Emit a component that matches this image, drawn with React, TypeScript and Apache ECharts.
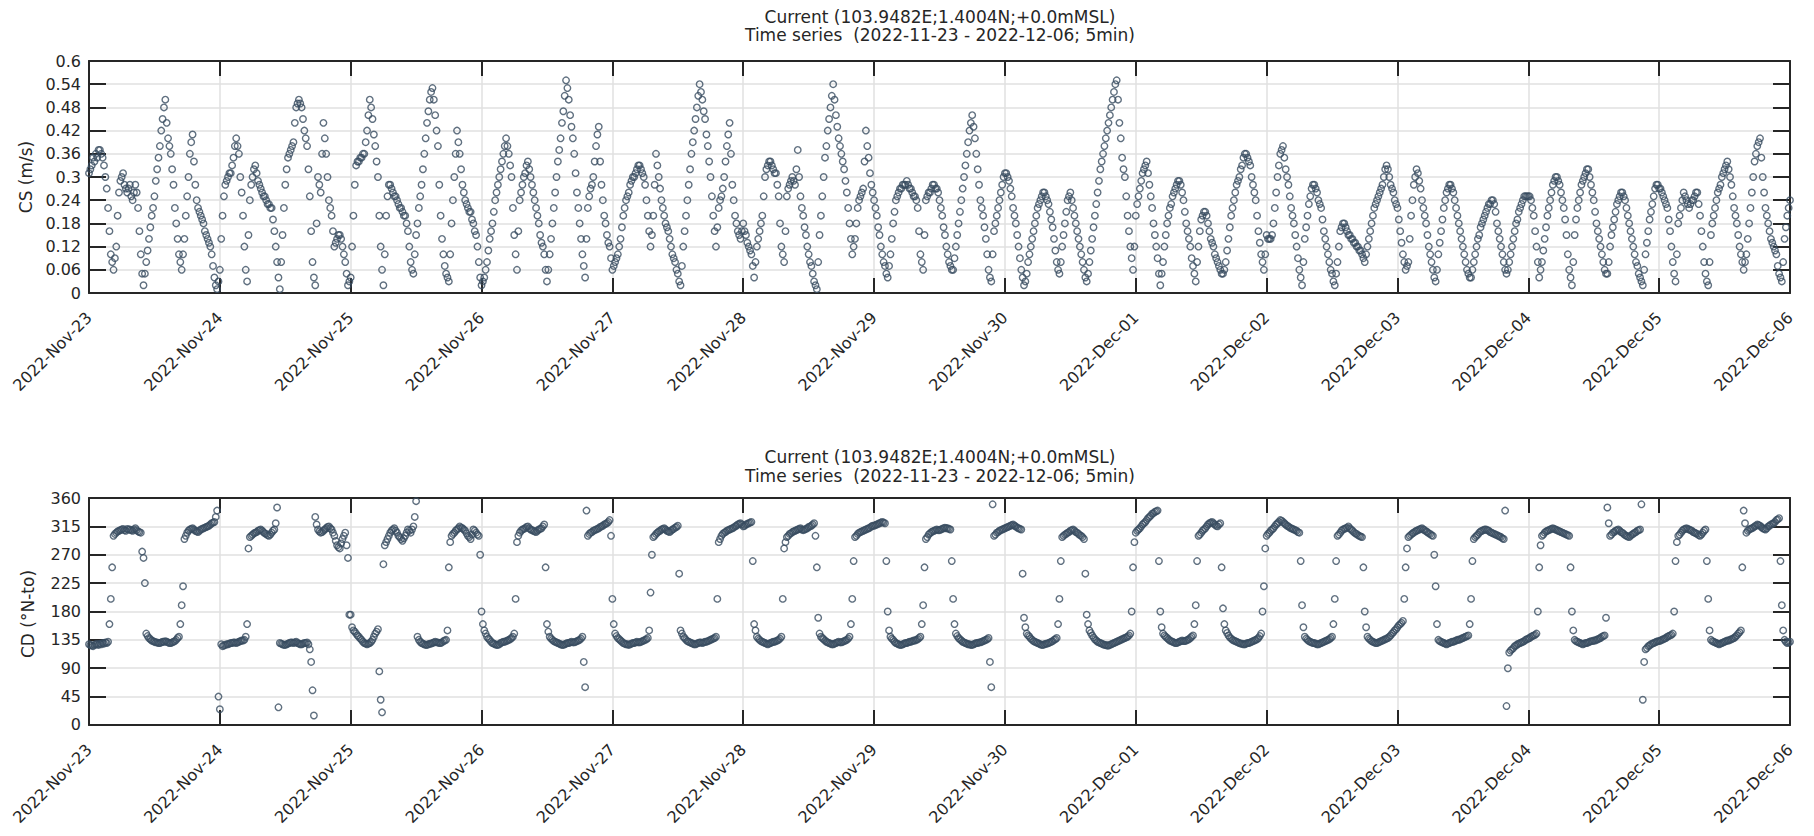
import React, { useEffect, useRef } from "react";
import * as echarts from "echarts";

// ---------- tick labels / texts ----------
const dateLabels = [
  "2022-Nov-23", "2022-Nov-24", "2022-Nov-25", "2022-Nov-26", "2022-Nov-27",
  "2022-Nov-28", "2022-Nov-29", "2022-Nov-30", "2022-Dec-01", "2022-Dec-02",
  "2022-Dec-03", "2022-Dec-04", "2022-Dec-05", "2022-Dec-06",
];
const titleLine1 = "Current (103.9482E;1.4004N;+0.0mMSL)";
const titleLine2 = "Time series  (2022-11-23 - 2022-12-06; 5min)";

// ---------- current speed (m/s), 15-minute readings per day ----------
const cs_nov23 = [0.31,0.32,0.33,0.35,0.34,0.36,0.35,0.37,0.37,0.36,0.35,0.33,0.30,0.27,0.22,0.16,0.10,0.08,0.06,0.09,0.12,0.20,0.26,0.29,0.30,0.31,0.28,0.27,0.26,0.27,0.28,0.25,0.24,0.26,0.28,0.26,0.22,0.16,0.10,0.05,0.02,0.05,0.08,0.11,0.14,0.17,0.20,0.22,0.25,0.29,0.32,0.35,0.38,0.42,0.45,0.48,0.50,0.44,0.40,0.38,0.36,0.32,0.28,0.22,0.18,0.14,0.10,0.08,0.06,0.10,0.14,0.20,0.25,0.30,0.36,0.39,0.41,0.34,0.28,0.24,0.22,0.21,0.20,0.19,0.18,0.16,0.15,0.14,0.13,0.12,0.10,0.07,0.04,0.02,0.01,0.03];
const cs_nov24 = [0.06,0.14,0.20,0.25,0.28,0.29,0.30,0.31,0.31,0.33,0.35,0.38,0.40,0.38,0.36,0.30,0.26,0.20,0.12,0.06,0.03,0.15,0.24,0.28,0.30,0.32,0.33,0.31,0.29,0.28,0.27,0.26,0.25,0.25,0.24,0.23,0.23,0.22,0.22,0.19,0.16,0.12,0.08,0.04,0.01,0.08,0.15,0.22,0.28,0.32,0.35,0.36,0.37,0.38,0.39,0.44,0.48,0.49,0.50,0.49,0.48,0.45,0.42,0.40,0.38,0.32,0.25,0.16,0.08,0.04,0.02,0.18,0.30,0.28,0.26,0.36,0.44,0.40,0.36,0.30,0.24,0.22,0.20,0.16,0.12,0.13,0.14,0.15,0.15,0.14,0.12,0.10,0.08,0.05,0.02,0.03];
const cs_nov25 = [0.04,0.12,0.20,0.28,0.33,0.34,0.34,0.35,0.35,0.36,0.36,0.39,0.42,0.46,0.50,0.48,0.45,0.41,0.38,0.34,0.30,0.20,0.12,0.06,0.02,0.10,0.20,0.25,0.28,0.28,0.27,0.26,0.25,0.25,0.24,0.23,0.22,0.22,0.21,0.20,0.20,0.18,0.16,0.12,0.08,0.06,0.05,0.10,0.15,0.18,0.22,0.25,0.28,0.32,0.36,0.40,0.44,0.47,0.50,0.52,0.53,0.50,0.46,0.42,0.38,0.28,0.20,0.14,0.10,0.07,0.05,0.04,0.03,0.10,0.18,0.24,0.30,0.36,0.42,0.39,0.36,0.32,0.28,0.26,0.24,0.23,0.22,0.21,0.21,0.19,0.18,0.16,0.15,0.12,0.08,0.04];
const cs_nov26 = [0.02,0.03,0.04,0.06,0.08,0.11,0.14,0.16,0.18,0.21,0.24,0.26,0.28,0.30,0.32,0.34,0.36,0.38,0.40,0.38,0.36,0.33,0.30,0.22,0.15,0.10,0.06,0.16,0.24,0.26,0.28,0.30,0.31,0.33,0.34,0.32,0.30,0.28,0.26,0.24,0.22,0.20,0.18,0.15,0.13,0.12,0.10,0.06,0.03,0.06,0.10,0.14,0.18,0.22,0.26,0.30,0.34,0.37,0.40,0.44,0.47,0.51,0.55,0.53,0.50,0.46,0.43,0.40,0.36,0.31,0.26,0.22,0.18,0.14,0.10,0.07,0.04,0.14,0.22,0.25,0.27,0.28,0.30,0.34,0.38,0.41,0.43,0.34,0.28,0.24,0.20,0.18,0.15,0.13,0.12,0.09];
const cs_nov27 = [0.06,0.07,0.08,0.09,0.10,0.12,0.14,0.17,0.20,0.22,0.24,0.25,0.26,0.28,0.29,0.30,0.30,0.31,0.32,0.33,0.33,0.32,0.31,0.30,0.28,0.24,0.20,0.16,0.12,0.15,0.20,0.28,0.36,0.33,0.30,0.27,0.24,0.22,0.20,0.18,0.17,0.16,0.14,0.12,0.10,0.09,0.08,0.06,0.05,0.03,0.02,0.07,0.12,0.16,0.20,0.24,0.28,0.32,0.36,0.39,0.42,0.45,0.48,0.51,0.54,0.52,0.50,0.47,0.45,0.41,0.38,0.34,0.30,0.25,0.20,0.16,0.12,0.17,0.22,0.24,0.25,0.27,0.30,0.34,0.38,0.41,0.44,0.36,0.28,0.24,0.20,0.18,0.16,0.15,0.14,0.16];
const cs_nov28 = [0.18,0.16,0.15,0.13,0.12,0.11,0.10,0.07,0.04,0.08,0.12,0.14,0.16,0.18,0.20,0.25,0.30,0.32,0.33,0.34,0.34,0.33,0.32,0.31,0.31,0.28,0.25,0.18,0.12,0.10,0.08,0.16,0.25,0.27,0.28,0.29,0.30,0.29,0.28,0.32,0.37,0.30,0.25,0.22,0.20,0.17,0.15,0.12,0.10,0.08,0.07,0.05,0.03,0.02,0.01,0.08,0.15,0.20,0.25,0.30,0.35,0.38,0.42,0.45,0.48,0.51,0.54,0.50,0.46,0.43,0.40,0.38,0.36,0.34,0.32,0.29,0.26,0.22,0.18,0.14,0.10,0.12,0.14,0.18,0.22,0.24,0.25,0.26,0.27,0.34,0.42,0.38,0.35,0.31,0.28,0.26];
const cs_nov29 = [0.24,0.22,0.20,0.17,0.15,0.12,0.10,0.08,0.07,0.05,0.04,0.07,0.10,0.14,0.18,0.21,0.24,0.25,0.26,0.27,0.27,0.28,0.28,0.28,0.29,0.28,0.27,0.27,0.26,0.25,0.25,0.24,0.22,0.16,0.10,0.08,0.06,0.15,0.24,0.25,0.26,0.26,0.27,0.28,0.28,0.27,0.27,0.26,0.24,0.22,0.20,0.17,0.15,0.12,0.10,0.08,0.07,0.06,0.06,0.09,0.12,0.15,0.18,0.21,0.24,0.27,0.30,0.33,0.36,0.39,0.42,0.44,0.46,0.43,0.40,0.36,0.32,0.28,0.24,0.22,0.20,0.17,0.14,0.10,0.06,0.04,0.03,0.10,0.16,0.18,0.20,0.22,0.24,0.26,0.28,0.30];
const cs_nov30 = [0.31,0.31,0.30,0.29,0.27,0.25,0.22,0.20,0.18,0.15,0.12,0.09,0.06,0.04,0.02,0.03,0.05,0.08,0.10,0.12,0.14,0.16,0.18,0.20,0.22,0.23,0.24,0.25,0.26,0.26,0.25,0.24,0.23,0.21,0.19,0.17,0.14,0.11,0.08,0.06,0.05,0.08,0.12,0.15,0.18,0.21,0.24,0.25,0.26,0.24,0.22,0.20,0.18,0.16,0.14,0.12,0.10,0.08,0.06,0.04,0.03,0.05,0.08,0.11,0.14,0.17,0.20,0.23,0.26,0.29,0.32,0.34,0.36,0.38,0.40,0.42,0.44,0.46,0.48,0.50,0.52,0.54,0.55,0.50,0.44,0.40,0.35,0.32,0.30,0.25,0.20,0.16,0.12,0.09,0.06,0.12];
const cs_dec01 = [0.20,0.23,0.25,0.27,0.29,0.31,0.32,0.33,0.34,0.31,0.28,0.25,0.22,0.18,0.15,0.12,0.09,0.05,0.02,0.05,0.08,0.12,0.15,0.18,0.20,0.22,0.23,0.25,0.26,0.27,0.28,0.29,0.29,0.28,0.26,0.24,0.21,0.18,0.16,0.14,0.12,0.09,0.07,0.05,0.03,0.08,0.12,0.16,0.19,0.20,0.21,0.21,0.20,0.18,0.16,0.14,0.13,0.12,0.10,0.09,0.08,0.07,0.06,0.05,0.05,0.06,0.08,0.11,0.14,0.17,0.20,0.22,0.24,0.26,0.28,0.29,0.30,0.32,0.33,0.35,0.36,0.36,0.35,0.34,0.33,0.30,0.28,0.26,0.24,0.20,0.16,0.13,0.10,0.08,0.06,0.10];
const cs_dec02 = [0.15,0.14,0.14,0.14,0.15,0.18,0.22,0.26,0.30,0.33,0.36,0.37,0.38,0.35,0.32,0.30,0.28,0.25,0.22,0.20,0.18,0.15,0.12,0.09,0.06,0.04,0.02,0.08,0.14,0.17,0.20,0.23,0.25,0.27,0.28,0.28,0.27,0.26,0.24,0.23,0.22,0.19,0.16,0.14,0.12,0.10,0.08,0.06,0.05,0.03,0.02,0.05,0.08,0.12,0.16,0.17,0.18,0.18,0.17,0.16,0.15,0.15,0.14,0.14,0.13,0.13,0.12,0.12,0.11,0.11,0.10,0.09,0.08,0.10,0.12,0.14,0.16,0.18,0.20,0.22,0.23,0.24,0.25,0.26,0.27,0.28,0.30,0.32,0.33,0.32,0.30,0.28,0.27,0.26,0.24,0.23];
const cs_dec03 = [0.22,0.19,0.16,0.13,0.10,0.08,0.06,0.07,0.08,0.14,0.20,0.24,0.28,0.30,0.32,0.31,0.29,0.27,0.24,0.22,0.20,0.18,0.15,0.12,0.10,0.08,0.06,0.04,0.03,0.06,0.10,0.13,0.16,0.19,0.22,0.24,0.26,0.27,0.28,0.28,0.27,0.26,0.24,0.22,0.20,0.18,0.16,0.14,0.12,0.10,0.08,0.06,0.05,0.04,0.04,0.06,0.08,0.10,0.12,0.14,0.15,0.17,0.18,0.19,0.20,0.21,0.22,0.23,0.23,0.24,0.24,0.23,0.21,0.18,0.16,0.14,0.12,0.10,0.08,0.06,0.05,0.06,0.08,0.10,0.12,0.14,0.16,0.18,0.19,0.21,0.22,0.23,0.24,0.25,0.25,0.25];
const cs_dec04 = [0.25,0.25,0.24,0.22,0.20,0.16,0.12,0.08,0.04,0.06,0.08,0.11,0.14,0.17,0.20,0.22,0.24,0.26,0.28,0.29,0.30,0.30,0.29,0.28,0.26,0.24,0.22,0.19,0.15,0.10,0.06,0.04,0.02,0.08,0.15,0.19,0.22,0.24,0.26,0.28,0.29,0.30,0.31,0.32,0.32,0.30,0.28,0.26,0.24,0.21,0.18,0.16,0.14,0.12,0.10,0.08,0.06,0.05,0.05,0.08,0.12,0.15,0.17,0.19,0.21,0.23,0.24,0.25,0.26,0.26,0.25,0.24,0.22,0.20,0.18,0.16,0.14,0.12,0.10,0.08,0.07,0.05,0.04,0.03,0.02,0.06,0.10,0.13,0.16,0.19,0.21,0.23,0.25,0.27,0.28,0.28];
const cs_dec05 = [0.27,0.27,0.26,0.25,0.24,0.23,0.22,0.19,0.16,0.12,0.08,0.05,0.03,0.10,0.18,0.20,0.22,0.24,0.26,0.25,0.24,0.23,0.22,0.23,0.24,0.24,0.25,0.26,0.26,0.23,0.20,0.16,0.12,0.08,0.05,0.03,0.02,0.08,0.15,0.18,0.20,0.22,0.24,0.26,0.27,0.28,0.30,0.31,0.32,0.33,0.34,0.32,0.30,0.28,0.25,0.22,0.20,0.18,0.15,0.12,0.10,0.08,0.06,0.08,0.10,0.14,0.18,0.22,0.26,0.30,0.34,0.36,0.38,0.39,0.40,0.35,0.30,0.26,0.22,0.20,0.18,0.16,0.14,0.13,0.12,0.11,0.10,0.07,0.05,0.04,0.03,0.08,0.14,0.17,0.20,0.22];
const cs_dec06 = [0.24];

// ---------- current direction (deg, N-to), 15-minute readings per day ----------
const cd_nov23 = [128,127,126,125,127,128,128,127,129,128,130,129,131,130,132,160,200,250,300,303,305,307,308,309,310,311,309,308,311,310,310,309,308,310,312,309,307,306,305,275,265,225,145,141,138,136,134,133,132,131,131,130,130,131,132,132,133,132,131,130,130,131,132,133,135,138,140,160,190,220,295,300,305,308,310,311,312,310,308,307,306,308,310,311,312,313,314,315,316,318,320,321,322,330,340,45];
const cd_nov24 = [25,128,125,126,127,128,128,129,130,130,131,131,130,131,132,133,134,134,135,140,160,280,298,300,302,304,305,306,308,309,310,308,306,304,303,301,300,302,305,308,310,320,345,28,130,129,128,127,127,128,129,130,131,131,130,131,132,130,129,128,128,129,130,130,131,128,120,100,55,15,330,318,310,307,305,306,308,310,312,314,315,312,310,305,300,292,285,282,280,288,295,300,305,285,265,175];
const cd_nov25 = [175,155,150,148,145,142,140,137,135,132,130,129,128,129,130,132,135,140,145,148,152,85,40,20,255,285,290,295,300,305,308,310,312,308,305,300,298,295,292,296,300,305,310,308,305,310,315,330,355,140,135,132,130,129,128,127,127,128,129,129,130,131,132,131,131,130,130,131,133,134,135,150,250,290,300,303,305,308,310,312,315,313,312,310,308,304,300,298,295,302,310,308,305,302,300,270];
const cd_nov26 = [180,160,150,145,140,137,135,132,130,129,128,127,127,128,130,131,132,132,133,134,135,136,138,140,145,200,290,300,305,308,310,311,312,314,315,312,310,309,308,307,306,308,310,311,312,315,318,250,160,148,140,137,135,133,132,131,130,129,128,127,127,128,129,130,130,131,132,131,131,132,133,134,135,137,140,100,60,340,300,303,305,306,308,309,310,311,312,314,315,316,318,319,320,322,325,300];
const cd_nov27 = [200,160,145,141,138,136,134,132,130,129,128,128,127,128,129,130,130,131,132,131,131,132,133,134,135,136,138,150,210,270,298,300,303,305,307,308,310,311,312,310,308,307,306,308,310,311,313,314,316,240,150,145,140,138,135,133,132,131,130,129,128,128,129,130,131,131,130,131,132,132,133,134,135,136,137,138,140,200,290,295,300,303,305,306,308,309,310,311,312,313,315,316,318,319,320,318];
const cd_nov28 = [315,316,318,319,320,321,322,260,160,150,140,137,135,133,132,131,130,129,128,129,130,131,132,132,133,134,135,137,140,200,280,290,298,300,303,304,306,307,308,309,310,311,312,310,309,310,311,312,314,315,316,318,320,300,250,170,145,140,138,136,134,132,131,130,129,128,128,129,130,131,132,131,131,132,133,134,135,137,140,160,200,260,298,300,303,305,306,307,308,309,310,311,312,313,315,316];
const cd_nov29 = [316,317,318,319,320,321,322,321,320,260,180,150,140,137,135,132,130,129,128,127,127,128,129,130,130,131,132,132,133,134,134,135,136,138,140,160,190,250,295,298,302,304,306,307,308,309,310,309,309,310,311,312,313,312,312,311,310,260,200,160,145,141,138,136,134,132,131,130,129,128,128,127,127,128,129,130,130,131,131,132,133,134,135,136,138,100,60,350,300,302,305,306,308,309,310,311];
const cd_nov30 = [312,313,314,315,316,317,318,316,315,313,312,311,310,240,170,155,145,142,140,137,135,133,132,131,130,129,128,127,127,128,129,129,130,131,132,133,135,136,138,160,200,260,298,300,302,303,305,306,308,309,310,308,306,305,303,301,300,298,295,240,175,160,150,146,142,139,136,134,132,131,130,129,128,127,127,126,126,127,128,129,130,131,132,133,134,135,136,137,138,139,140,142,145,180,250,290];
const cd_dec01 = [305,308,310,312,315,318,320,322,325,328,330,332,335,336,338,339,340,260,180,155,145,142,140,138,136,134,133,132,131,130,130,131,132,133,134,133,133,134,135,136,138,140,142,160,190,260,300,302,305,308,310,312,315,318,320,321,322,320,318,316,315,318,320,250,185,160,150,146,142,139,137,135,134,133,132,131,130,129,129,128,128,129,130,130,131,132,133,134,135,136,138,141,145,180,220,280];
const cd_dec02 = [300,303,305,308,310,312,315,318,320,322,325,324,322,320,318,316,315,313,312,311,310,309,308,306,305,260,190,155,140,137,135,133,132,131,130,130,129,128,128,129,130,131,132,133,134,135,136,138,140,160,200,260,300,302,305,308,310,311,312,313,315,312,310,308,306,304,303,301,300,299,298,250,180,155,140,137,135,133,132,131,130,130,131,132,133,134,135,136,137,138,140,142,145,147,150,152];
const cd_dec03 = [155,158,160,162,165,200,250,280,298,300,302,304,305,307,308,309,310,311,312,310,309,307,306,304,303,301,300,270,220,160,135,133,132,131,130,129,128,129,130,131,132,132,133,134,135,135,136,137,138,139,140,141,142,160,200,260,295,298,300,302,305,307,308,309,310,310,309,308,306,305,304,303,302,301,300,299,298,296,295,340,30,90,115,118,120,122,125,126,128,129,130,131,132,133,135,136];
const cd_dec04 = [137,138,140,141,142,143,145,180,250,285,300,302,305,307,308,309,310,311,312,311,310,309,308,307,306,305,304,303,302,301,300,250,180,150,135,133,132,131,130,129,128,129,130,130,131,132,133,133,134,134,135,136,137,138,140,141,142,170,345,320,300,302,305,306,308,309,310,308,306,305,303,301,300,299,298,300,302,303,305,306,308,309,310,350,40,100,120,122,125,126,128,129,130,131,132,133];
const cd_dec05 = [133,134,135,136,137,138,140,141,142,143,145,180,260,290,300,302,305,308,310,311,312,311,310,309,308,306,305,304,303,301,300,302,305,308,310,260,200,150,135,133,132,131,130,129,128,129,130,131,132,133,134,134,135,136,137,138,140,142,145,147,150,250,340,320,305,308,310,311,312,313,315,316,318,317,316,314,312,311,310,312,315,316,318,319,320,322,325,326,328,260,190,150,135,132,130,131];
const cd_dec06 = [132];

const csDays = [cs_nov23, cs_nov24, cs_nov25, cs_nov26, cs_nov27, cs_nov28, cs_nov29, cs_nov30, cs_dec01, cs_dec02, cs_dec03, cs_dec04, cs_dec05, cs_dec06];
const cdDays = [cd_nov23, cd_nov24, cd_nov25, cd_nov26, cd_nov27, cd_nov28, cd_nov29, cd_nov30, cd_dec01, cd_dec02, cd_dec03, cd_dec04, cd_dec05, cd_dec06];

// x in hours since 2022-11-23 00:00; each day's readings are evenly spaced over 24 h
function toPoints(days: number[][]): number[][] {
  const pts: number[][] = [];
  days.forEach((d, di) => d.forEach((v, k) => pts.push([di * 24 + (k * 24) / Math.max(d.length, 96), v])));
  return pts;
}

const FONT = "'DejaVu Sans', 'Liberation Sans', Arial, sans-serif";
const INK = "#262626";
const axisLS = { color: INK, width: 2 };
const gridLS = { color: "#e1e1e1", width: 1.5 };
const MARK = "#384c60";

function xAxesFor(gridIndex: number) {
  return [
    {
      type: "value", gridIndex, min: 0, max: 312, interval: 24, position: "bottom",
      axisLine: { show: true, onZero: false, lineStyle: axisLS },
      axisTick: { show: true, inside: true, length: 15, lineStyle: axisLS },
      axisLabel: {
        show: true, rotate: 45, fontSize: 16, color: INK, fontFamily: FONT, margin: 22,
        showMinLabel: true, showMaxLabel: true,
        formatter: (v: number) => dateLabels[Math.round(v / 24)] ?? "",
      },
      splitLine: { show: true, lineStyle: gridLS },
    },
    {
      type: "value", gridIndex, min: 0, max: 312, interval: 24, position: "top",
      axisLine: { show: true, onZero: false, lineStyle: axisLS },
      axisTick: { show: true, inside: true, length: 15, lineStyle: axisLS },
      axisLabel: { show: false },
      splitLine: { show: false },
    },
  ];
}

function yAxesFor(gridIndex: number, max: number, interval: number) {
  return [
    {
      type: "value", gridIndex, min: 0, max, interval, position: "left",
      axisLine: { show: true, onZero: false, lineStyle: axisLS },
      axisTick: { show: true, inside: true, length: 17, lineStyle: axisLS },
      axisLabel: {
        show: true, fontSize: 16, color: INK, fontFamily: FONT, margin: 8,
        formatter: (v: number) => String(Number(v.toFixed(2))),
      },
      splitLine: { show: true, lineStyle: gridLS },
    },
    {
      type: "value", gridIndex, min: 0, max, interval, position: "right",
      axisLine: { show: true, onZero: false, lineStyle: axisLS },
      axisTick: { show: true, inside: true, length: 17, lineStyle: axisLS },
      axisLabel: { show: false },
      splitLine: { show: false },
    },
  ];
}

function textEl(text: string, x: number, y: number, size: number, rotation = 0) {
  return {
    type: "text", x, y, rotation,
    style: { text, fill: INK, font: `${size}px ${FONT}`, align: "center", verticalAlign: "middle" },
  };
}

export default function App() {
  const ref = useRef<HTMLDivElement>(null);
  useEffect(() => {
    if (!ref.current) return;
    const chart = echarts.init(ref.current, undefined, { renderer: "svg" });
    const series = [
      { data: toPoints(csDays), xAxisIndex: 0, yAxisIndex: 0 },
      { data: toPoints(cdDays), xAxisIndex: 2, yAxisIndex: 2 },
    ].map((s) => ({
      type: "scatter",
      symbol: "circle",
      symbolSize: 6.5,
      itemStyle: { color: "rgba(0,0,0,0)", borderColor: MARK, borderWidth: 1.4 },
      ...s,
    }));
    chart.setOption({
      animation: false,
      backgroundColor: "#ffffff",
      grid: [
        { left: 81, top: 53, right: 16, height: 232 },
        { left: 81, top: 490, right: 16, height: 232 },
      ],
      xAxis: [...xAxesFor(0), ...xAxesFor(1)],
      yAxis: [...yAxesFor(0, 0.6, 0.06), ...yAxesFor(1, 360, 45)],
      series,
      graphic: [
        textEl(titleLine1, 932, 9, 17),
        textEl(titleLine2, 932, 27, 17),
        textEl(titleLine1, 932, 449, 17),
        textEl(titleLine2, 932, 468, 17),
        textEl("CS (m/s)", 18, 169, 17, Math.PI / 2),
        textEl("CD (\u00B0N-to)", 20, 606, 17, Math.PI / 2),
      ],
    });
    return () => chart.dispose();
  }, []);
  return <div ref={ref} style={{ width: 1798, height: 820 }} />;
}
